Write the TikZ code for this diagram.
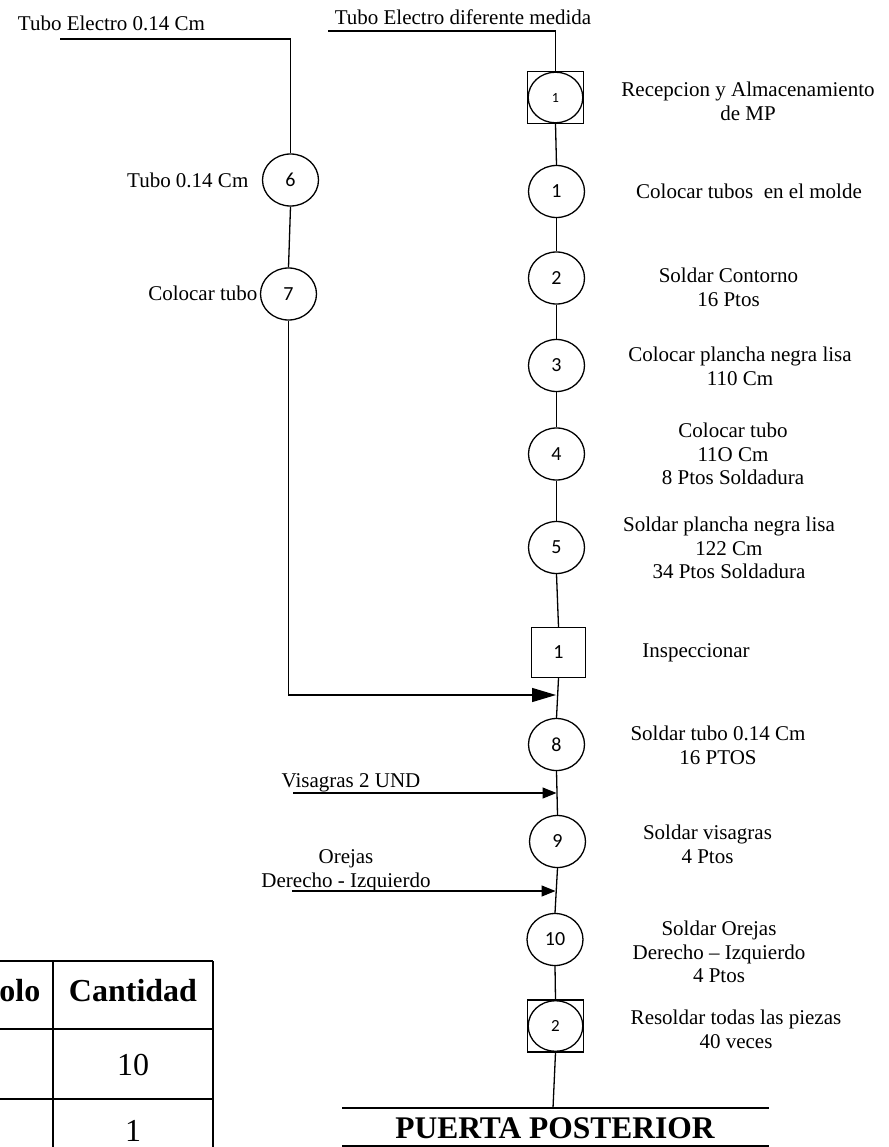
\documentclass[tikz,border=0pt]{standalone}
\usepackage{fontspec}
\setmainfont{Liberation Serif}
\newfontfamily\numfont{Carlito}
\usetikzlibrary{shapes.geometric,arrows.meta}
\begin{document}
\begin{tikzpicture}[x=1pt,y=-1pt,
  line width=1.3pt,
  op/.style={draw,ellipse,minimum width=56pt,minimum height=52pt,inner sep=0pt,
    font=\numfont\fontsize{20}{24}\selectfont},
  store/.style={draw,rectangle,minimum width=56pt,minimum height=52pt,inner sep=0pt,
    path picture={\draw[line width=1.3pt] (path picture bounding box.center) ellipse (27.3pt and 25.3pt);}},
  inspbox/.style={draw,rectangle,minimum width=54pt,minimum height=50pt,inner sep=0pt,
    font=\numfont\fontsize{20}{24}\selectfont},
  lbl/.style={font=\fontsize{21}{23.5}\selectfont,inner sep=0pt,align=center},
  bigtip/.style={-{Triangle[length=24pt,width=14pt]}},
  smalltip/.style={-{Triangle[length=14pt,width=11pt]}},
  tbl/.style={line width=2pt},
]
\useasboundingbox (0,0) rectangle (888,1147);

% main line of operations
\node[store,font=\numfont\fontsize{14}{16}\selectfont] (s1) at (555.5,97.5) {1};
\node[op] (c1) at (556.5,191.5) {1};
\node[op] (c2) at (556.5,278) {2};
\node[op] (c3) at (556.5,365.5) {3};
\node[op] (c4) at (556.5,454) {4};
\node[op] (c5) at (556.5,547.5) {5};
\node[inspbox] (insp) at (558.5,652.5) {1};
\node[op] (c8) at (556.5,744.5) {8};
\node[op] (c9) at (557.5,841.5) {9};
\node[op] (c10) at (555,939.5) {10};
\node[store,font=\numfont\fontsize{17}{20}\selectfont] (s2) at (555.5,1026) {2};

% side branch
\node[op] (c6) at (290.5,180) {6};
\node[op] (c7) at (288.5,294) {7};

% descriptions
\node[lbl,anchor=base] (tA) at (111.5,31) {Tubo Electro 0.14 Cm};
\node[lbl,anchor=base] (tB) at (463,25) {Tubo Electro diferente medida};
\node[lbl,anchor=north] (d0) at (748,81.7) {Recepcion y Almacenamiento\\de MP};
\node[lbl,anchor=base] (d1) at (749,199) {Colocar tubos \ en el molde};
\node[lbl,anchor=north] (d2) at (728.5,267.4) {Soldar Contorno\\16 Ptos};
\node[lbl,anchor=north] (d3) at (740,346.4) {Colocar plancha negra lisa\\110 Cm};
\node[lbl,anchor=north] (d4) at (733,422.4) {Colocar tubo\\11O Cm\\8 Ptos Soldadura};
\node[lbl,anchor=north] (d5) at (729,516.4) {Soldar plancha negra lisa\\122 Cm\\34 Ptos Soldadura};
\node[lbl,anchor=base] (di) at (696,657) {Inspeccionar};
\node[lbl,anchor=north] (d8) at (718,725.7) {Soldar tubo 0.14 Cm\\16 PTOS};
\node[lbl,anchor=north] (d9) at (707.5,824.7) {Soldar visagras\\4 Ptos};
\node[lbl,anchor=north] (d10) at (719,920.7) {Soldar Orejas\\Derecho -- Izquierdo\\4 Ptos};
\node[lbl,anchor=north] (d11) at (736,1009.7) {Resoldar todas las piezas\\40 veces};
\node[lbl,anchor=base east] (d6) at (249,188) {Tubo 0.14 Cm};
\node[lbl,anchor=base east] (d7) at (258,301) {Colocar tubo};
\node[lbl,anchor=base] (dv) at (351,787) {Visagras 2 UND};
\node[lbl,anchor=north] (dor) at (346,849) {Orejas\\Derecho - Izquierdo};

% incoming material lines
\coordinate (a0) at (60,39);
\coordinate (b0) at (328,31);
\draw (a0) -| (c6.north);
\draw (b0) -| (s1.north);
\draw (c6.south) -- (c7.north);

% spine connectors
\draw (s1.south) -- (c1.north);
\draw (c1.south) -- (c2.north);
\draw (c2.south) -- (c3.north);
\draw (c3.south) -- (c4.north);
\draw (c4.south) -- (c5.north);
\draw (c5.south) -- (insp.north);
\draw (insp.south) -- (c8.north);
\draw (c8.south) -- (c9.north);
\draw (c9.south) -- (c10.north);
\draw (c10.south) -- (s2.north);

% joins onto the spine
\coordinate (j1) at (556,695);
\coordinate (v0) at (293,793);
\coordinate (j2) at (556.5,793);
\coordinate (o0) at (292,891);
\coordinate (j3) at (555.5,891);
\draw[bigtip] (c7.south) |- (j1);
\draw[smalltip] (v0) -- (j2);
\draw[smalltip] (o0) -- (j3);

% product title
\coordinate (pp) at (553,1108);
\coordinate (tl1) at (342,1108);
\coordinate (tr1) at (769,1108);
\coordinate (tl2) at (342,1146);
\coordinate (tr2) at (769,1146);
\draw (s2.south) -- (pp);
\draw (tl1) -- (tr1);
\draw (tl2) -- (tr2);
\node[inner sep=0pt,anchor=base,font=\bfseries\fontsize{31.5}{36}\selectfont] (ttl) at (555,1138) {PUERTA POSTERIOR};

% summary table
\draw[tbl] (0,961) -- (213,961);
\draw[tbl] (0,1029) -- (213,1029);
\draw[tbl] (0,1099) -- (213,1099);
\draw[tbl] (53,961) -- (53,1147);
\draw[tbl] (213,961) -- (213,1147);
\node[inner sep=0pt,anchor=base east,font=\bfseries\fontsize{32}{36}\selectfont] (h1) at (41,1001) {olo};
\node[inner sep=0pt,anchor=base,font=\bfseries\fontsize{32}{36}\selectfont] (h2) at (133,1001) {Cantidad};
\node[inner sep=0pt,anchor=base,font=\fontsize{32}{36}\selectfont] (r1) at (133,1075) {10};
\node[inner sep=0pt,anchor=base,font=\fontsize{32}{36}\selectfont] (r2) at (133,1141) {1};
\end{tikzpicture}
\end{document}
